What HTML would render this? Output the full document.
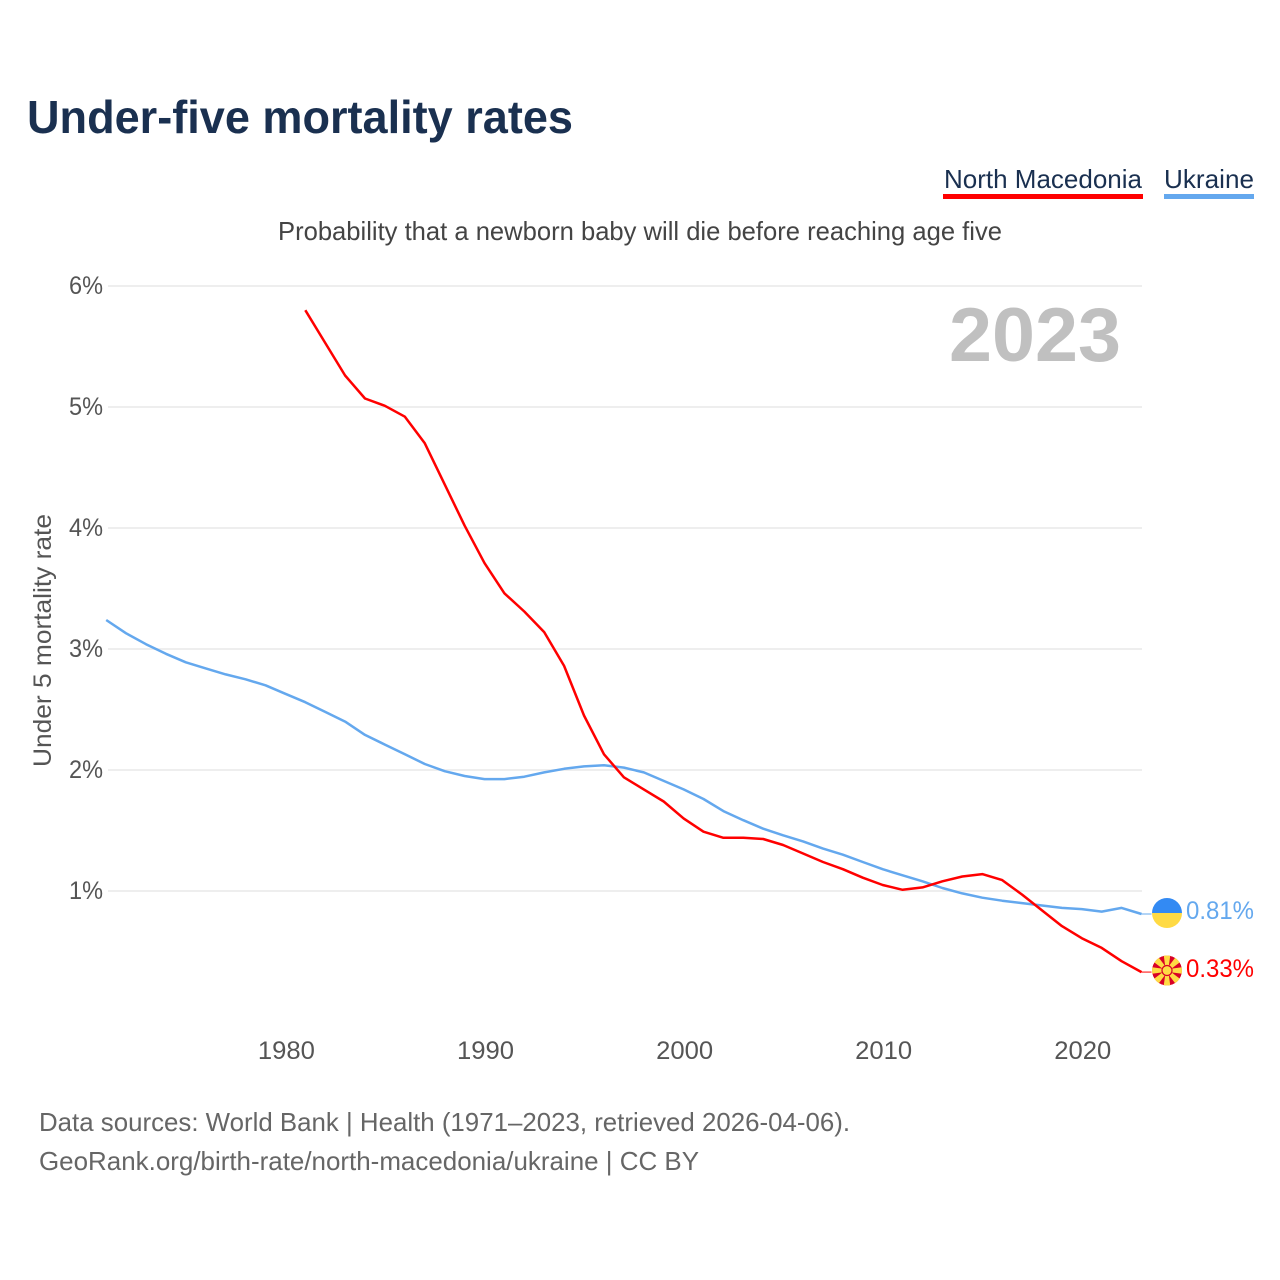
<!DOCTYPE html>
<html lang="en">
<head>
<meta charset="utf-8">
<title>Under-five mortality rates</title>
<style>
html,body{margin:0;padding:0;background:#fff;}
svg{display:block;font-family:"Liberation Sans",sans-serif;}
</style>
</head>
<body>
<svg id="chart" xmlns="http://www.w3.org/2000/svg" width="1280" height="1280" viewBox="0 0 1280 1280">
  <rect width="1280" height="1280" fill="#fff"/>
  <text x="27" y="133" font-size="46" font-weight="700" fill="#1a3050" textLength="546" lengthAdjust="spacingAndGlyphs">Under-five mortality rates</text>
  <g>
    <text x="944" y="188" font-size="26" fill="#1a3050" textLength="198" lengthAdjust="spacingAndGlyphs">North Macedonia</text>
    <rect x="943" y="194" width="200" height="5" fill="#ff0000"/>
  </g>
  <g>
    <text x="1164" y="188" font-size="26" fill="#1a3050" textLength="90" lengthAdjust="spacingAndGlyphs">Ukraine</text>
    <rect x="1164" y="194" width="90" height="5" fill="#64a8ee"/>
  </g>
  <text x="278" y="240" font-size="26" fill="#444" textLength="724" lengthAdjust="spacingAndGlyphs">Probability that a newborn baby will die before reaching age five</text>
  <g id="grid"></g>
  <g id="yticks"></g>
  <g id="xticks"></g>
  <text transform="translate(51,767) rotate(-90)" x="0" y="0" font-size="25" fill="#555" textLength="253" lengthAdjust="spacingAndGlyphs">Under 5 mortality rate</text>
  <text id="year" x="949" y="361" font-size="76" font-weight="700" fill="#c0c0c0" textLength="172" lengthAdjust="spacingAndGlyphs">2023</text>
  <g id="series"></g>
  <g>
    <clipPath id="clipUa"><circle cx="1167" cy="913" r="15"/></clipPath>
    <g clip-path="url(#clipUa)">
      <rect x="1152" y="898" width="30" height="15" fill="#338af3"/>
      <rect x="1152" y="913" width="30" height="15" fill="#ffda44"/>
    </g>
  </g>
  <g>
    <clipPath id="clipMk"><circle cx="1167" cy="970.5" r="15"/></clipPath>
    <g clip-path="url(#clipMk)">
      <circle cx="1167" cy="970.5" r="15" fill="#d80027"/>
      <g fill="#ffda44" transform="translate(1167,970.5)">
        <polygon points="-3.4,-16 3.4,-16 1.2,0 -1.2,0"/>
        <polygon points="-3.4,-16 3.4,-16 1.2,0 -1.2,0" transform="rotate(45)"/>
        <polygon points="-3.4,-16 3.4,-16 1.2,0 -1.2,0" transform="rotate(90)"/>
        <polygon points="-3.4,-16 3.4,-16 1.2,0 -1.2,0" transform="rotate(135)"/>
        <polygon points="-3.4,-16 3.4,-16 1.2,0 -1.2,0" transform="rotate(180)"/>
        <polygon points="-3.4,-16 3.4,-16 1.2,0 -1.2,0" transform="rotate(225)"/>
        <polygon points="-3.4,-16 3.4,-16 1.2,0 -1.2,0" transform="rotate(270)"/>
        <polygon points="-3.4,-16 3.4,-16 1.2,0 -1.2,0" transform="rotate(315)"/>
        <circle r="5.6" fill="#d80027"/>
        <circle r="4.4" fill="#ffda44"/>
      </g>
    </g>
  </g>
  <g id="endlabels"></g>
  <text x="39" y="1131" font-size="26" fill="#666" textLength="811" lengthAdjust="spacingAndGlyphs">Data sources: World Bank | Health (1971–2023, retrieved 2026-04-06).</text>
  <text x="39" y="1170" font-size="26" fill="#666" textLength="660" lengthAdjust="spacingAndGlyphs">GeoRank.org/birth-rate/north-macedonia/ukraine | CC BY</text>
</svg>
<script>
const ukraineYears = [1971,1972,1973,1974,1975,1976,1977,1978,1979,1980,1981,1982,1983,1984,1985,1986,1987,1988,1989,1990,1991,1992,1993,1994,1995,1996,1997,1998,1999,2000,2001,2002,2003,2004,2005,2006,2007,2008,2009,2010,2011,2012,2013,2014,2015,2016,2017,2018,2019,2020,2021,2022,2023];
const ukraineValues = [3.24,3.13,3.04,2.96,2.89,2.84,2.79,2.75,2.70,2.63,2.56,2.48,2.40,2.29,2.21,2.13,2.05,1.99,1.95,1.925,1.925,1.945,1.98,2.01,2.03,2.04,2.02,1.98,1.91,1.84,1.76,1.66,1.585,1.515,1.46,1.41,1.35,1.30,1.24,1.18,1.13,1.08,1.025,0.98,0.945,0.92,0.90,0.88,0.86,0.85,0.83,0.86,0.81];
const macedoniaYears = [1981,1982,1983,1984,1985,1986,1987,1988,1989,1990,1991,1992,1993,1994,1995,1996,1997,1998,1999,2000,2001,2002,2003,2004,2005,2006,2007,2008,2009,2010,2011,2012,2013,2014,2015,2016,2017,2018,2019,2020,2021,2022,2023];
const macedoniaValues = [5.80,5.53,5.26,5.07,5.01,4.92,4.70,4.36,4.02,3.71,3.46,3.31,3.14,2.86,2.45,2.13,1.94,1.84,1.74,1.60,1.49,1.44,1.44,1.43,1.38,1.31,1.24,1.18,1.11,1.05,1.01,1.03,1.08,1.12,1.14,1.09,0.97,0.84,0.71,0.61,0.53,0.42,0.33];
const yTickValues = [1,2,3,4,5,6];
const yTickLabels = ["1%","2%","3%","4%","5%","6%"];
const xTickValues = [1980,1990,2000,2010,2020];
const xTickLabels = ["1980","1990","2000","2010","2020"];
const NS = "http://www.w3.org/2000/svg";
function xScale(year){ return 285.4 + (year - 1980) * 19.91; }
function yScale(value){ return 1012 - value * 121; }
function make(tag, attrs, parent){
  const el = document.createElementNS(NS, tag);
  for (const k in attrs) el.setAttribute(k, attrs[k]);
  parent.appendChild(el);
  return el;
}
const grid = document.getElementById('grid');
const yticks = document.getElementById('yticks');
const xticks = document.getElementById('xticks');
const series = document.getElementById('series');
const endlabels = document.getElementById('endlabels');
yTickValues.forEach(function(v, i){
  const line = make('line', {x1:108, x2:1142, y1:yScale(v), y2:yScale(v), stroke:'#eeeeee', 'stroke-width':2}, grid);
  
  
  const t = make('text', {x:69, y:yScale(v)+8, 'font-size':25, fill:'#555', textLength:34, lengthAdjust:'spacingAndGlyphs'}, yticks);
  
  
  t.textContent = yTickLabels[i];
});
xTickValues.forEach(function(v, i){
  const t = make('text', {x:xScale(v)+1, y:1059, 'font-size':25, fill:'#555', 'text-anchor':'middle', textLength:57, lengthAdjust:'spacingAndGlyphs'}, xticks);
  
  
  t.textContent = xTickLabels[i];
});
function drawSeries(years, values, color, name){
  const pts = years.map(function(y, i){ return xScale(y).toFixed(1) + ',' + yScale(values[i]).toFixed(1); }).join(' ');
  const line = make('polyline', {points:pts, fill:'none', stroke:color, 'stroke-width':2.5, 'stroke-linejoin':'round'}, series);
  
  
  const last = values[values.length - 1];
  const lastX = xScale(years[years.length - 1]);
  const conn = make('line', {x1:lastX, x2:lastX + 10, y1:yScale(last), y2:yScale(last), stroke:color, 'stroke-width':1}, series);
  
  
  const label = make('text', {x:1186, y:yScale(last)+5, 'font-size':25, fill:color, textLength:68, lengthAdjust:'spacingAndGlyphs'}, endlabels);
  
  
  label.textContent = last.toFixed(2) + '%';
}
drawSeries(ukraineYears, ukraineValues, '#64a8ee', 'ukraine');
drawSeries(macedoniaYears, macedoniaValues, '#ff0000', 'north-macedonia');
</script>
</body>
</html>
